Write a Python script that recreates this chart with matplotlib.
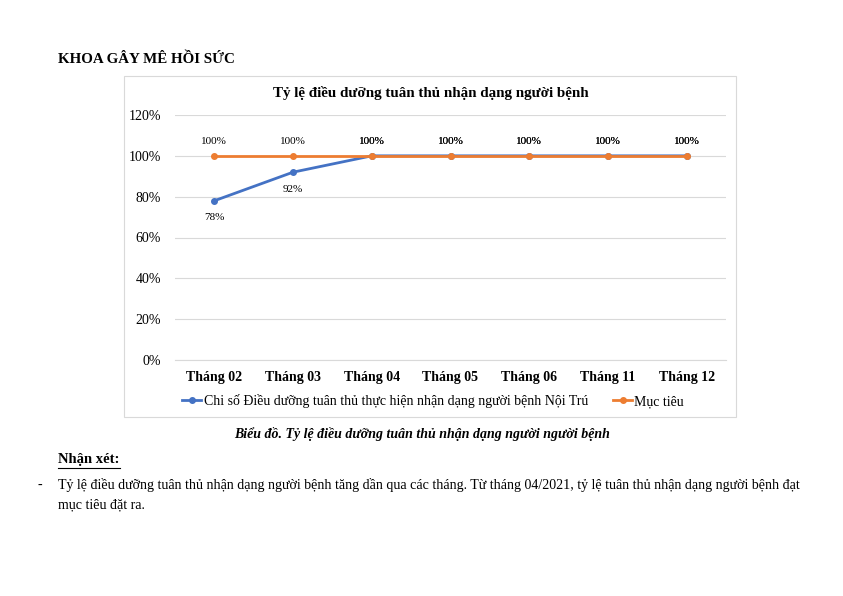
import matplotlib
matplotlib.use("Agg")
import matplotlib.pyplot as plt
from matplotlib.patches import Rectangle

plt.rcParams['font.family'] = ['Liberation Serif', 'DejaVu Serif']

months = ["Tháng 02", "Tháng 03", "Tháng 04", "Tháng 05", "Tháng 06", "Tháng 11", "Tháng 12"]
compliance = [0.78, 0.92, 1.00, 1.00, 1.00, 1.00, 1.00]
target = [1.00, 1.00, 1.00, 1.00, 1.00, 1.00, 1.00]
yticks = [0, 0.2, 0.4, 0.6, 0.8, 1.0, 1.2]

blue = "#4472C4"
orange = "#ED7D31"

fig = plt.figure(figsize=(8.43, 5.96), dpi=100)
W, H = 843, 596

def fx(px):
    return px / W

def fy(py):
    return 1 - py / H

# page heading
fig.text(fx(58), fy(59), "KHOA GÂY MÊ HỒI SỨC", fontsize=10.8, fontweight="bold",
         va="center", ha="left")

# chart frame
fig.patches.append(Rectangle((fx(124), fy(417)), fx(736) - fx(124), fy(76) - fy(417),
                             transform=fig.transFigure, fill=False, edgecolor="#d9d9d9", lw=0.8))

ax = fig.add_axes([fx(175), fy(360), fx(726) - fx(175), fy(115) - fy(360)])
x = list(range(len(months)))

ax.plot(x, compliance, color=blue, lw=2, marker="o", ms=4, label="Chi số Điều dưỡng tuân thủ thực hiện nhận dạng người bệnh Nội Trú", zorder=3)
ax.plot(x, target, color=orange, lw=2, marker="o", ms=4, label="Mục tiêu", zorder=4)

for i, v in enumerate(compliance):
    if v < 1:
        ax.annotate(f"{v:.0%}", (i, v), xytext=(0, -9), textcoords="offset points",
                    ha="center", va="top", fontsize=8)
    else:
        ax.annotate(f"{v:.0%}", (i, v), xytext=(0, 7), textcoords="offset points",
                    ha="center", va="bottom", fontsize=8)
for i, v in enumerate(target):
    ax.annotate(f"{v:.0%}", (i, v), xytext=(0, 7), textcoords="offset points",
                ha="center", va="bottom", fontsize=8)

ax.set_xlim(-0.5, len(months) - 0.5)
ax.set_ylim(0, 1.2)
ax.set_yticks(yticks)
ax.set_yticklabels([f"{t:.0%}" for t in yticks], fontsize=10)
ax.set_xticks(x)
ax.set_xticklabels(months, fontsize=10, fontweight="bold")
ax.tick_params(length=0, axis="y", pad=10)
ax.tick_params(length=0, axis="x", pad=8)
ax.grid(axis="y", color="#d9d9d9", lw=0.8)
ax.set_axisbelow(True)
for s in ax.spines.values():
    s.set_visible(False)
ax.spines["bottom"].set_visible(True)
ax.spines["bottom"].set_color("#d9d9d9")

fig.text(fx(431), fy(93), "Tỷ lệ điều dưỡng tuân thủ nhận dạng người bệnh", fontsize=10.8,
         fontweight="bold", ha="center", va="center")

fig.legend(loc="center", bbox_to_anchor=(fx(433), fy(401)), ncol=2, frameon=False,
           fontsize=10, handlelength=1.4, handletextpad=0.15, columnspacing=1.8)

fig.text(fx(422), fy(434), "Biểu đồ. Tỷ lệ điều dưỡng tuân thủ nhận dạng người người bệnh",
         fontsize=10, fontweight="bold", style="italic", ha="center", va="center")

fig.text(fx(58), fy(460), "Nhận xét:", fontsize=10.5, fontweight="bold", ha="left", va="center")
fig.lines.append(plt.Line2D([fx(58), fx(120)], [fy(468), fy(468)], transform=fig.transFigure,
                            color="black", lw=0.8))

fig.text(fx(37), fy(485), "-", fontsize=10, ha="left", va="center")
fig.text(fx(58), fy(485), "Tỷ lệ điều dưỡng tuân thủ nhận dạng người bệnh tăng dần qua các tháng. "
         "Từ tháng 04/2021, tỷ lệ tuân thủ nhận dạng người bệnh đạt", fontsize=10.1, ha="left", va="center")
fig.text(fx(58), fy(505), "mục tiêu đặt ra.", fontsize=10.1, ha="left", va="center")

fig.savefig("out.png", dpi=100)
